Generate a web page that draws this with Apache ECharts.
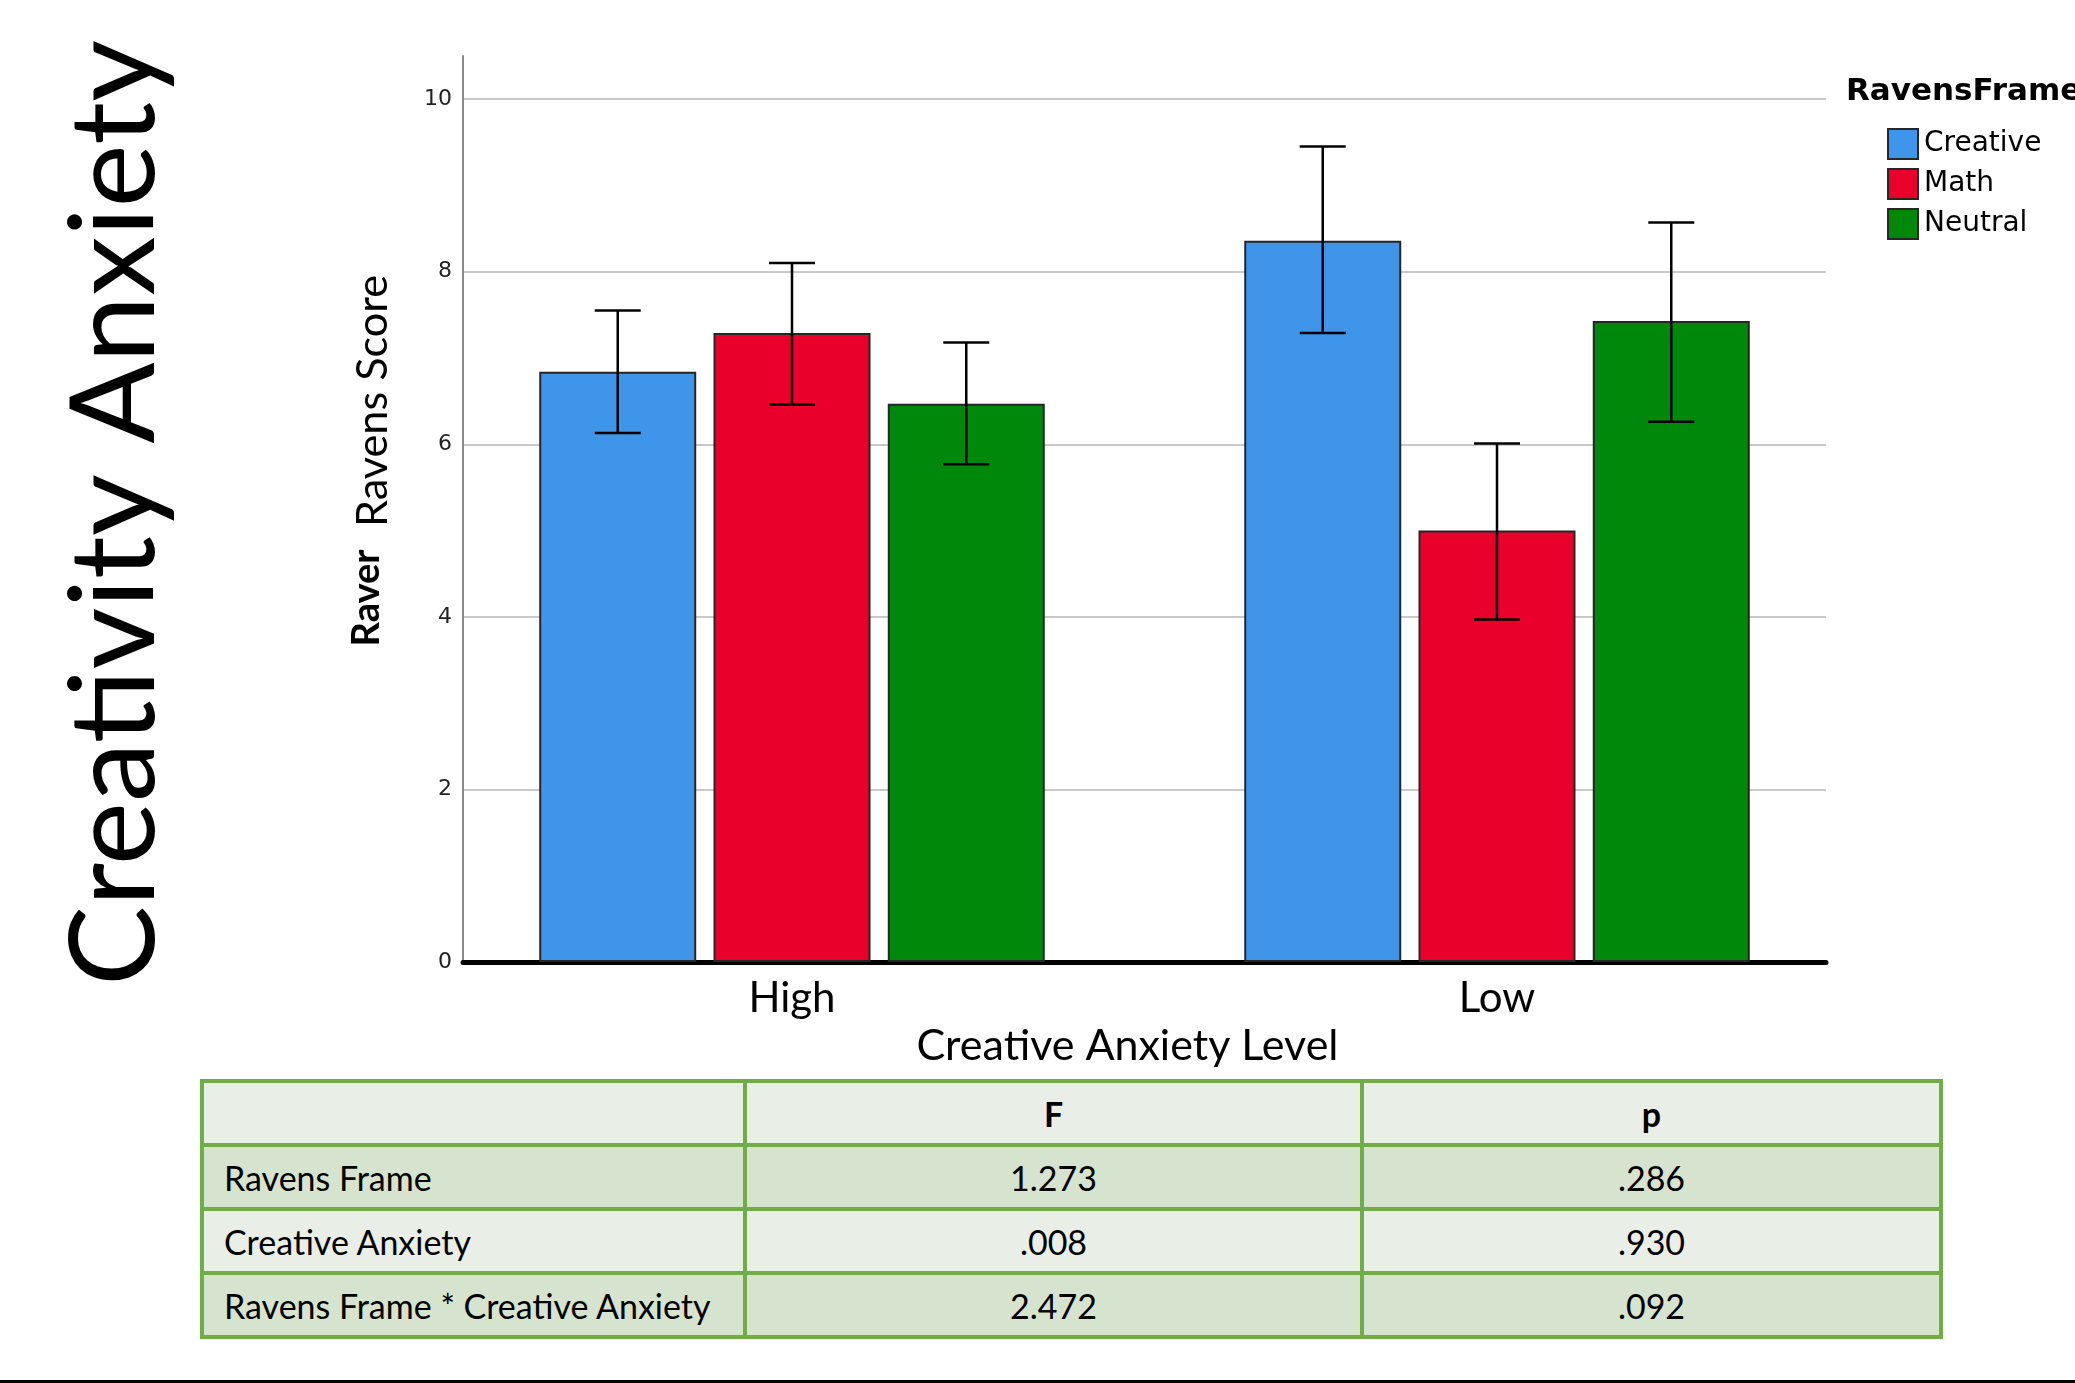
<!DOCTYPE html>
<html>
<head>
<meta charset="utf-8">
<script src="https://cdn.jsdelivr.net/npm/echarts@6/dist/echarts.min.js"></script>
<style>
html,body{margin:0;padding:0;background:#fff;width:2075px;height:1383px;overflow:hidden;}
#chart{position:absolute;left:0;top:0;width:2075px;height:1383px;}
#tbl{position:absolute;left:200px;top:1079px;padding:4px;background:#70AD47;display:grid;
  grid-template-columns:539px 613px 575px;grid-auto-rows:60px;gap:4px;
  font-family:Lato,sans-serif;font-size:34px;color:#000;}
#tbl .c{display:flex;align-items:center;justify-content:center;}
#tbl .c.first{justify-content:flex-start;padding-left:20px;}
#tbl .c.light{background:#E9EFE7;}
#tbl .c.dark{background:#D6E3CE;}
#tbl .c.hdr{font-weight:bold;}
#bottomline{position:absolute;left:0;top:1380px;width:2075px;height:3px;background:#000;}
</style>
</head>
<body>
<div id="chart"></div>
<div id="tbl"></div>
<div id="bottomline"></div>
<script>
// ---- data ----
const categories = ['High', 'Low'];
const frames = ['Creative', 'Math', 'Neutral'];
const meanCreative = [6.84, 8.36];
const meanMath = [7.29, 5.00];
const meanNeutral = [6.47, 7.43];
const lowCreative = [6.13, 7.29];
const highCreative = [7.55, 9.45];
const lowMath = [6.46, 3.97];
const highMath = [8.10, 6.01];
const lowNeutral = [5.77, 6.26];
const highNeutral = [7.18, 8.57];
const yMin = 0, yMax = 10.5, yInterval = 2;

const tableHeader = ['', 'F', 'p'];
const tableEffects = ['Ravens Frame', 'Creative Anxiety', 'Ravens Frame * Creative Anxiety'];
const tableF = ['1.273', '.008', '2.472'];
const tableP = ['.286', '.930', '.092'];

// ---- table ----
(function(){
  const t = document.getElementById('tbl');
  const rows = [tableHeader].concat(tableEffects.map((e,i)=>[e, tableF[i], tableP[i]]));
  rows.forEach((r, ri) => {
    r.forEach((v, ci) => {
      const d = document.createElement('div');
      d.className = 'c ' + (ri % 2 === 0 ? 'light' : 'dark') + (ri === 0 ? ' hdr' : '') + (ci === 0 ? ' first' : '');
      d.textContent = v;
      t.appendChild(d);
    });
  });
})();

// ---- chart ----
const means = [meanCreative, meanMath, meanNeutral];
const lows = [lowCreative, lowMath, lowNeutral];
const highs = [highCreative, highMath, highNeutral];
const colors = ['#3E95EA', '#E9002B', '#00880B'];
const BAR_W = 157, GAP_RATIO = 0.11, CAP = 46;
// category positions 0..n-1 on a value axis with outer padding of 7/15 of a step
const X_STEP = 1 / 15, X_PAD_STEPS = 7;

function fitScale(text, font, target) {
  const ctx = document.createElement('canvas').getContext('2d');
  ctx.font = font;
  return target / ctx.measureText(text).width;
}

const chart = echarts.init(document.getElementById('chart'), null, {renderer: 'canvas'});

const barSeries = frames.map((f, k) => ({
  name: f, type: 'bar', data: categories.map((c, i) => [i, means[k][i]]),
  barWidth: BAR_W, barGap: (GAP_RATIO * 100) + '%',
  itemStyle: {color: colors[k], borderColor: '#262626', borderWidth: 2},
  z: 2
}));

const errSeries = frames.map((f, k) => ({
  name: 'err-' + f, type: 'custom', z: 5,
  data: categories.map((c, i) => [i, lows[k][i], highs[k][i]]),
  encode: {x: 0, y: [1, 2]},
  renderItem: function (params, api) {
    const ci = api.value(0);
    const lo = api.coord([ci, api.value(1)]);
    const hi = api.coord([ci, api.value(2)]);
    const x = lo[0] + (k - 1) * (BAR_W * (1 + GAP_RATIO));
    const st = {stroke: '#000', lineWidth: 2.5};
    return {type: 'group', children: [
      {type: 'line', shape: {x1: x, y1: hi[1], x2: x, y2: lo[1]}, style: st},
      {type: 'line', shape: {x1: x - CAP/2, y1: hi[1], x2: x + CAP/2, y2: hi[1]}, style: st},
      {type: 'line', shape: {x1: x - CAP/2, y1: lo[1], x2: x + CAP/2, y2: lo[1]}, style: st}
    ]};
  }
}));

function rotText(text, x, y, size, weight, target) {
  const font = (weight === 'bold' ? 'bold ' : '') + size + 'px Lato';
  const s = fitScale(text, font, target);
  return {
    type: 'text', x: x, y: y, rotation: Math.PI / 2, scaleX: s, scaleY: 1,
    style: {text: text, fontSize: size, fontFamily: 'Lato', fontWeight: weight,
      fill: '#000', align: 'center', verticalAlign: 'middle',
      textAlign: 'center', textVerticalAlign: 'middle'}
  };
}

const option = {
  animation: false,
  backgroundColor: '#fff',
  grid: {left: 463, right: 249, top: 56, bottom: 421, containLabel: false},
  legend: {
    data: frames, orient: 'vertical', left: 1887, top: 128, padding: 0,
    itemWidth: 30, itemHeight: 30, itemGap: 8, icon: 'rect',
    textStyle: {fontFamily: 'DejaVu Sans', fontSize: 28, color: '#000', padding: [0, 0, 0, 1]}
  },
  xAxis: {
    type: 'value',
    min: -X_PAD_STEPS * X_STEP,
    max: (categories.length - 1) + X_PAD_STEPS * X_STEP,
    interval: X_STEP,
    axisLine: {show: true, onZero: true, lineStyle: {color: '#000', width: 5}},
    axisTick: {show: false},
    splitLine: {show: false},
    axisLabel: {fontFamily: 'Lato', fontSize: 42, color: '#000', margin: 15,
      showMinLabel: false, showMaxLabel: false, hideOverlap: false,
      formatter: function (v) {
        const r = Math.round(v);
        return Math.abs(v - r) < 1e-6 && categories[r] !== undefined ? categories[r] : '';
      }},
    name: 'Creative Anxiety Level', nameLocation: 'middle', nameGap: 63,
    nameTextStyle: {fontFamily: 'Lato', fontSize: 43, color: '#000', padding: [0, 34, 0, 0]}
  },
  yAxis: {
    type: 'value', min: yMin, max: yMax, interval: yInterval,
    axisLine: {show: true, onZero: false, lineStyle: {color: '#888', width: 2}},
    axisTick: {show: false},
    axisLabel: {showMaxLabel: false, fontFamily: 'DejaVu Sans', fontSize: 22, color: '#222', margin: 11},
    splitLine: {show: true, showMinLine: false, showMaxLine: false, lineStyle: {color: '#c9c9c9', width: 2}}
  },
  series: barSeries.concat(errSeries),
  graphic: [
    rotText('Creativity Anxiety', 116, 513, 118, 'normal', 946),
    rotText('Ravens Score', 373, 401, 42, 'normal', 252),
    rotText('Raver', 366, 598, 39, 'bold', 97),
    {type: 'text', x: 1846, y: 92,
      style: {text: 'RavensFrame', fontSize: 31, fontFamily: 'DejaVu Sans', fontWeight: 'bold', fill: '#000',
        align: 'left', verticalAlign: 'middle', textAlign: 'left', textVerticalAlign: 'middle'}}
  ]
};
chart.setOption(option);
</script>
</body>
</html>
